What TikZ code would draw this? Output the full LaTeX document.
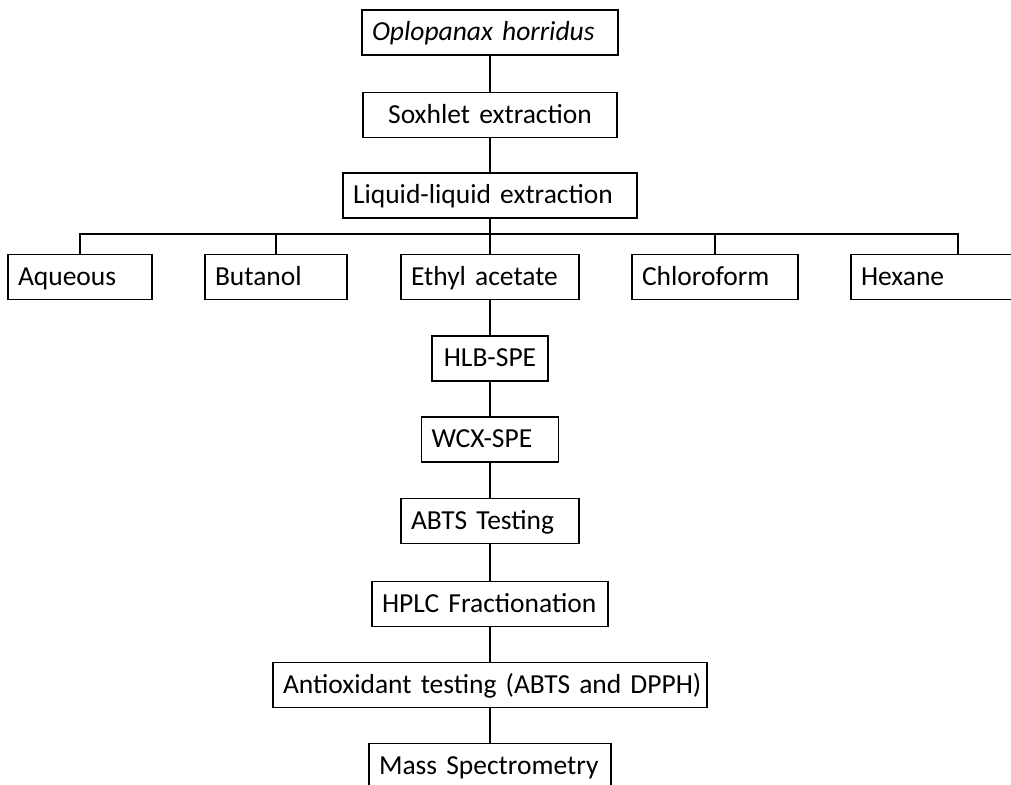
\documentclass[tikz,border=0pt]{standalone}
\usepackage{fontspec}
\setmainfont{Carlito}
\usepackage{tikz}
\usetikzlibrary{calc}
\usetikzlibrary{positioning}

\newcommand{\stagefont}{\fontsize{27.5}{30}\selectfont\setlength{\spaceskip}{5.5pt}}

\tikzset{
  stage/.style={draw, line width=1.2pt, inner xsep=10pt, inner ysep=0pt,
    text height=21pt, text depth=5pt,
    minimum height=45pt, align=left, font=\stagefont},
  link/.style={line width=1.2pt}
}

\begin{document}
\begin{tikzpicture}[x=1pt,y=-1pt]
\useasboundingbox (0,0) rectangle (1011,784);

\node[stage, text width=236pt] (opl) at (490,32.5) {\textit{Oplopanax horridus}};
\node[stage, text width=234pt, align=center] (sox) at (490,115) {Soxhlet extraction};
\node[stage, text width=274pt] (liq) at (490,195.5) {Liquid-liquid extraction};

\node[stage, text width=124pt] (aq) at (80,277) {Aqueous};
\node[stage, text width=122pt] (but) at (276,277) {Butanol};
\node[stage, text width=158pt] (eth) at (490,277) {Ethyl acetate};
\node[stage, text width=146pt] (chl) at (715,277) {Chloroform};
\node[stage, text width=194pt] (hex) at (958,277) {Hexane};

\node[stage, text width=96pt, align=center] (hlb) at (490,358.5) {HLB-SPE};
\node[stage, text width=117pt] (wcx) at (490,439.5) {WCX-SPE};
\node[stage, text width=158pt] (abts) at (490,521) {ABTS Testing};
\node[stage, text width=216pt] (hplc) at (490,604) {HPLC Fractionation};
\node[stage, text width=414pt] (anti) at (490,685) {\mbox{Antioxidant testing (ABTS and DPPH)}};
\node[stage, text width=222pt] (ms) at (490,766) {Mass Spectrometry};

% main line
\draw[link] (opl) -- (sox) -- (liq) -- (eth) -- (hlb) -- (wcx) -- (abts) -- (hplc) -- (anti) -- (ms);

% split into the five solvents
\coordinate (bus) at (490,234);
\draw[link] (aq.north) -- (aq.north |- bus) -- (hex.north |- bus) -- (hex.north);
\foreach \n in {but,chl}
  \draw[link] (\n.north) -- (\n.north |- bus);

\end{tikzpicture}
\end{document}
